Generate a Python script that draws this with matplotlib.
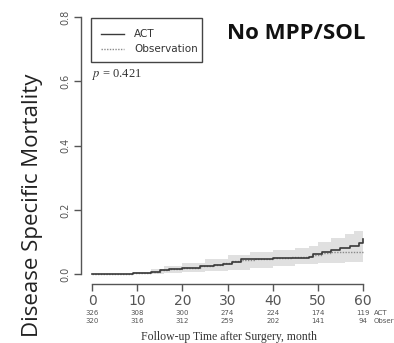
import numpy as np
import matplotlib
matplotlib.use('Agg')
import matplotlib.pyplot as plt
from matplotlib.lines import Line2D
from matplotlib.patches import Rectangle

plt.rcParams['mathtext.fontset'] = 'stix'

# cumulative disease specific mortality, step curves
act_t = [0, 9, 13, 15, 17, 20, 24, 27, 29, 31, 33, 36, 40, 44, 48, 49, 51, 53, 55, 57, 59, 60]
act_v = [0, 0.003, 0.008, 0.013, 0.016, 0.020, 0.024, 0.028, 0.032, 0.038, 0.046, 0.046,
         0.050, 0.050, 0.052, 0.062, 0.070, 0.075, 0.080, 0.088, 0.098, 0.108]
obs_t = [0, 9, 13, 15, 17, 20, 24, 27, 29, 31, 33, 36, 40, 44, 48, 49, 51, 53, 55, 57, 59, 60]
obs_v = [0, 0.002, 0.007, 0.012, 0.015, 0.019, 0.024, 0.028, 0.033, 0.040, 0.045, 0.047,
         0.050, 0.052, 0.055, 0.060, 0.065, 0.068, 0.069, 0.069, 0.069, 0.069]
# confidence band
band_t = [0, 9, 13, 16, 20, 25, 30, 35, 40, 45, 48, 50, 53, 56, 58, 60]
band_lo = [0, 0, 0.001, 0.004, 0.007, 0.010, 0.014, 0.020, 0.026, 0.030, 0.032, 0.034, 0.036, 0.038, 0.039, 0.040]
band_hi = [0, 0.006, 0.015, 0.025, 0.034, 0.046, 0.058, 0.068, 0.075, 0.082, 0.088, 0.100, 0.112, 0.125, 0.135, 0.148]

x_ticks = [0, 10, 20, 30, 40, 50, 60]
y_ticks = [0.0, 0.2, 0.4, 0.6, 0.8]
risk_act = [326, 308, 300, 274, 224, 174, 119]
risk_obs = [320, 316, 312, 259, 202, 141, 94]

W, H = 394, 343


def fx(px):
    return px / W


def fy(py):
    return 1 - py / H


fig = plt.figure(figsize=(3.94, 3.43), dpi=100)
ax = fig.add_axes([0.206, 0.171, 0.743, 0.809])
ax.set_xlim(-2.4, 62.4)
ax.set_ylim(-0.032, 0.832)

ax.fill_between(band_t, band_lo, band_hi, step='post', color='#e0e0e0', lw=0, zorder=1)
ax.step(obs_t, obs_v, where='post', color='#8a8a8a', lw=1.0, ls=(0, (1, 1)), zorder=2)
ax.step(act_t, act_v, where='post', color='#3a3a3a', lw=1.2, zorder=3)

for s in ['top', 'right']:
    ax.spines[s].set_visible(False)
ax.spines['left'].set_bounds(0, 0.8)
ax.spines['bottom'].set_bounds(0, 60)
for s in ['left', 'bottom']:
    ax.spines[s].set_color('#555555')
    ax.spines[s].set_linewidth(1.0)

ax.set_xticks(x_ticks)
ax.set_xticklabels([str(t) for t in x_ticks], fontsize=10, color='#555555', family='DejaVu Sans')
ax.set_yticks(y_ticks)
ax.set_yticklabels([f'{t:.1f}' for t in y_ticks], fontsize=7, color='#555555',
                   rotation=90, va='center', family='DejaVu Sans')
ax.tick_params(axis='both', direction='out', length=5, color='#555555', width=1.0)
ax.tick_params(axis='x', pad=2)
ax.tick_params(axis='y', pad=3)

# legend box, drawn by hand
fig.add_artist(Rectangle((fx(91), fy(62)), fx(202) - fx(91), fy(18) - fy(62),
                         transform=fig.transFigure, fill=False, edgecolor='#444444', lw=1.0))
fig.add_artist(Line2D([fx(101), fx(124)], [fy(34), fy(34)], transform=fig.transFigure,
                      color='#3a3a3a', lw=1.0))
fig.add_artist(Line2D([fx(101), fx(124)], [fy(48.5), fy(48.5)], transform=fig.transFigure,
                      color='#8a8a8a', lw=1.0, ls=(0, (1, 1))))
fig.text(fx(134), fy(34), 'ACT', fontsize=7.5, color='#333333', va='center', ha='left')
fig.text(fx(134), fy(48.5), 'Observation', fontsize=7.5, color='#333333', va='center', ha='left')

fig.text(fx(92), fy(74), r'$p$ = 0.421', fontsize=9, family='Liberation Serif', color='#333333',
         va='center', ha='left')

fig.text(0.7525, 0.901, 'No MPP/SOL', fontsize=16, fontweight='bold', family='Open Sans',
         ha='center', va='center', color='#111111')

fig.text(fx(33), fy(74), 'Disease Specific Mortality', fontsize=16, family='Open Sans',
         rotation=90, ha='center', va='top', color='#222222')

# numbers at risk
for t, a, o in zip(x_ticks, risk_act, risk_obs):
    xp = fx(92 + t * 4.517)
    fig.text(xp, fy(313), str(a), fontsize=5, ha='center', va='center', color='#555555')
    fig.text(xp, fy(321), str(o), fontsize=5, ha='center', va='center', color='#555555')
fig.text(fx(374), fy(313), 'ACT', fontsize=5, ha='left', va='center', color='#555555')
fig.text(fx(374), fy(321), 'Observation', fontsize=5, ha='left', va='center', color='#555555')

fig.text(fx(229), fy(337), 'Follow-up Time after Surgery, month', fontsize=8.5,
         family='Liberation Serif', ha='center', va='center', color='#333333')

fig.savefig('out.png', dpi=100, facecolor='white')
